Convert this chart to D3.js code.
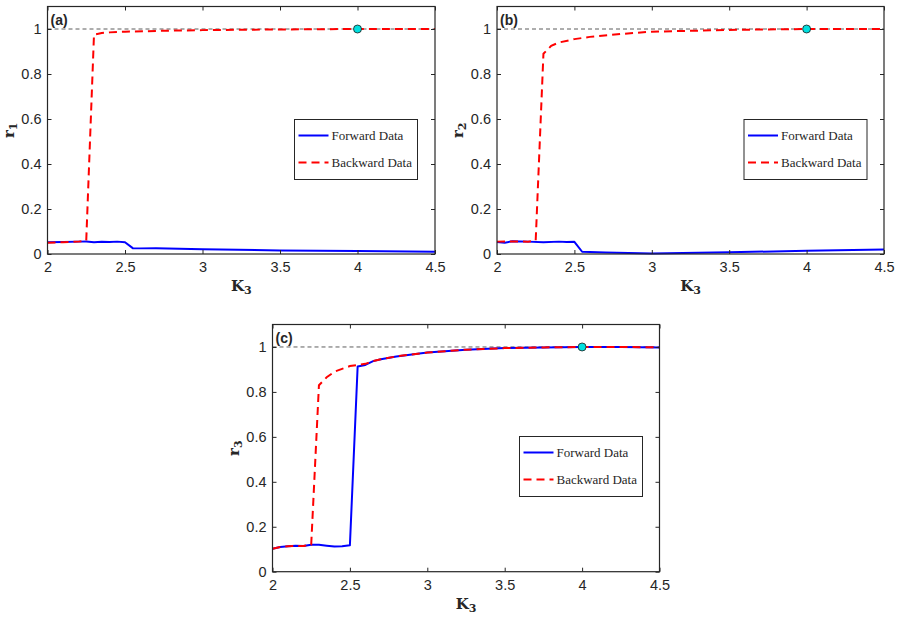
<!DOCTYPE html>
<html>
<head>
<meta charset="utf-8">
<script src="https://cdn.jsdelivr.net/npm/d3@7"></script>
<style>
  body { margin: 0; background: #fff; }
  text { fill: #262626; }
</style>
</head>
<body>
<div id="vis-container"></div>
<script>
// tick values shared by all three panels
const kTicks = [2, 2.5, 3, 3.5, 4, 4.5];
const rTicks = [0, 0.2, 0.4, 0.6, 0.8, 1];

// panel (a): r1
const k1Fwd = [2, 2.1, 2.2, 2.25, 2.3, 2.35, 2.4, 2.45, 2.5, 2.55, 2.6, 2.7, 3, 3.5, 4, 4.5];
const r1Fwd = [0.052, 0.053, 0.055, 0.056, 0.052, 0.054, 0.053, 0.055, 0.052, 0.026, 0.025, 0.026, 0.021, 0.016, 0.013, 0.01];
const k1Bwd = [2, 2.1, 2.2, 2.25, 2.3, 2.35, 2.4, 2.5, 2.75, 3, 3.5, 4, 4.5];
const r1Bwd = [0.05, 0.052, 0.055, 0.06, 0.975, 0.982, 0.985, 0.988, 0.992, 0.995, 0.998, 1, 1];

// panel (b): r2
const k2Fwd = [2, 2.05, 2.1, 2.2, 2.3, 2.4, 2.45, 2.5, 2.55, 2.7, 3, 3.5, 4, 4.5];
const r2Fwd = [0.053, 0.05, 0.057, 0.055, 0.052, 0.055, 0.053, 0.054, 0.01, 0.007, 0.002, 0.008, 0.014, 0.02];
const k2Bwd = [2, 2.1, 2.2, 2.25, 2.3, 2.35, 2.4, 2.5, 2.6, 2.8, 3, 3.5, 4, 4.5];
const r2Bwd = [0.055, 0.056, 0.055, 0.06, 0.89, 0.925, 0.94, 0.955, 0.965, 0.978, 0.988, 0.996, 1, 1];

// panel (c): r3
const k3Fwd = [2, 2.05, 2.1, 2.15, 2.2, 2.25, 2.3, 2.35, 2.4, 2.45, 2.5, 2.55, 2.6, 2.65, 2.7, 2.8, 3, 3.25, 3.5, 3.75, 4, 4.25, 4.5];
const r3Fwd = [0.102, 0.11, 0.113, 0.115, 0.114, 0.12, 0.12, 0.116, 0.112, 0.113, 0.118, 0.913, 0.92, 0.937, 0.945, 0.958, 0.975, 0.988, 0.995, 0.998, 1, 1, 0.998];
const k3Bwd = [2, 2.05, 2.1, 2.15, 2.2, 2.25, 2.3, 2.35, 2.4, 2.5, 2.55, 2.6, 2.65, 2.7, 2.8, 3, 3.25, 3.5, 3.75, 4, 4.25, 4.5];
const r3Bwd = [0.102, 0.11, 0.113, 0.115, 0.114, 0.12, 0.83, 0.865, 0.89, 0.915, 0.92, 0.925, 0.937, 0.945, 0.958, 0.975, 0.988, 0.995, 0.998, 1, 1, 0.998];

// marked point
const markK = 4;
const markR = 1;

const width = 901;
const height = 617;

const svg = d3.select('#vis-container').append('svg')
  .attr('width', width)
  .attr('height', height);

const zip = (ks, rs) => ks.map((k, i) => [k, rs[i]]);

function drawPanel(p) {
  const w = p.x1 - p.x0;
  const h = p.y1 - p.y0;
  const g = svg.append('g').attr('transform', `translate(${p.x0} ${p.y0})`);

  const x = d3.scaleLinear().domain([2, 4.5]).range([0, w]);
  const y = d3.scaleLinear().domain([0, 1.1]).range([h, 0]);

  const line = d3.line()
    .x(d => x(d[0]))
    .y(d => y(d[1]));

  // reference line at r = 1
  g.append('line')
    .attr('x1', x(2)).attr('x2', x(4.5))
    .attr('y1', y(1)).attr('y2', y(1))
    .attr('stroke', '#333')
    .attr('stroke-width', 0.8)
    .attr('stroke-dasharray', '4,3');

  g.append('path')
    .datum(zip(p.kf, p.rf))
    .attr('fill', 'none')
    .attr('stroke', '#0000ff')
    .attr('stroke-width', 2)
    .attr('stroke-linejoin', 'round')
    .attr('d', line);

  g.append('path')
    .datum(zip(p.kb, p.rb))
    .attr('fill', 'none')
    .attr('stroke', '#ff0000')
    .attr('stroke-width', 2)
    .attr('stroke-dasharray', '8,5')
    .attr('d', line);

  g.append('circle')
    .attr('cx', x(markK)).attr('cy', y(markR))
    .attr('r', 4)
    .attr('fill', '#00e0e0')
    .attr('stroke', '#1a1a1a')
    .attr('stroke-width', 0.8);

  // axes (MATLAB style: ticks inside, box all round)
  const axColor = '#262626';
  const xAxis = d3.axisBottom(x).tickValues(kTicks).tickSize(-4).tickPadding(8)
    .tickFormat(d3.format('~g'));
  const yAxis = d3.axisLeft(y).tickValues(rTicks).tickSize(-4).tickPadding(6)
    .tickFormat(d3.format('~g'));
  const xAxisTop = d3.axisTop(x).tickValues(kTicks).tickSize(-4).tickFormat('');
  const yAxisRight = d3.axisRight(y).tickValues(rTicks).tickSize(-4).tickFormat('');

  const axes = [
    g.append('g').attr('transform', `translate(0 ${h})`).call(xAxis),
    g.append('g').call(yAxis),
    g.append('g').call(xAxisTop),
    g.append('g').attr('transform', `translate(${w} 0)`).call(yAxisRight)
  ];
  axes.forEach(a => {
    a.select('.domain').remove();
    a.selectAll('line').attr('stroke', axColor);
    a.selectAll('text')
      .style('font-family', '"Liberation Sans", Arial, sans-serif')
      .style('font-size', '14.5px')
      .attr('fill', axColor);
  });

  g.append('rect')
    .attr('width', w).attr('height', h)
    .attr('fill', 'none')
    .attr('stroke', axColor)
    .attr('stroke-width', 1.2);

  // panel tag
  g.append('text')
    .attr('x', 3).attr('y', 18.5)
    .style('font-family', '"Liberation Sans", Arial, sans-serif')
    .style('font-weight', 'bold')
    .style('font-size', '14px')
    .text(p.tag);

  // axis labels
  const xl = g.append('text')
    .attr('x', w / 2).attr('y', h + 37)
    .attr('text-anchor', 'middle')
    .style('font-family', '"DejaVu Serif", serif')
    .style('font-weight', 'bold')
    .style('font-size', '15px');
  xl.append('tspan').text('K');
  xl.append('tspan').attr('dy', 3).style('font-size', '11px').text('3');

  const yl = g.append('text')
    .attr('transform', `translate(-34 ${h / 2}) rotate(-90)`)
    .attr('text-anchor', 'middle')
    .style('font-family', '"DejaVu Serif", serif')
    .style('font-weight', 'bold')
    .style('font-size', '15px');
  yl.append('tspan').text('r');
  yl.append('tspan').attr('dy', 3).style('font-size', '11px').text(p.sub);

  // legend
  const lg = g.append('g').attr('transform', `translate(${p.lx} ${p.ly})`);
  lg.append('rect')
    .attr('width', 123).attr('height', 60)
    .attr('fill', '#fff')
    .attr('stroke', axColor)
    .attr('stroke-width', 1);
  const items = [
    { label: 'Forward Data', color: '#0000ff', dash: null, dy: 16 },
    { label: 'Backward Data', color: '#ff0000', dash: '8,5', dy: 43 }
  ];
  items.forEach(it => {
    lg.append('line')
      .attr('x1', 4).attr('x2', 34)
      .attr('y1', it.dy).attr('y2', it.dy)
      .attr('stroke', it.color)
      .attr('stroke-width', 2)
      .attr('stroke-dasharray', it.dash);
    lg.append('text')
      .attr('x', 37).attr('y', it.dy + 4)
      .style('font-family', '"Liberation Serif", serif')
      .style('font-size', '13px')
      .text(it.label);
  });
}

drawPanel({ x0: 47.5, x1: 435, y0: 6.5, y1: 254, tag: '(a)', sub: '1',
  kf: k1Fwd, rf: r1Fwd, kb: k1Bwd, rb: r1Bwd, lx: 247, ly: 113 });
drawPanel({ x0: 497, x1: 884, y0: 6.5, y1: 254, tag: '(b)', sub: '2',
  kf: k2Fwd, rf: r2Fwd, kb: k2Bwd, rb: r2Bwd, lx: 247, ly: 113 });
drawPanel({ x0: 272.5, x1: 659.5, y0: 324.5, y1: 571.7, tag: '(c)', sub: '3',
  kf: k3Fwd, rf: r3Fwd, kb: k3Bwd, rb: r3Bwd, lx: 247, ly: 112 });
</script>
</body>
</html>
